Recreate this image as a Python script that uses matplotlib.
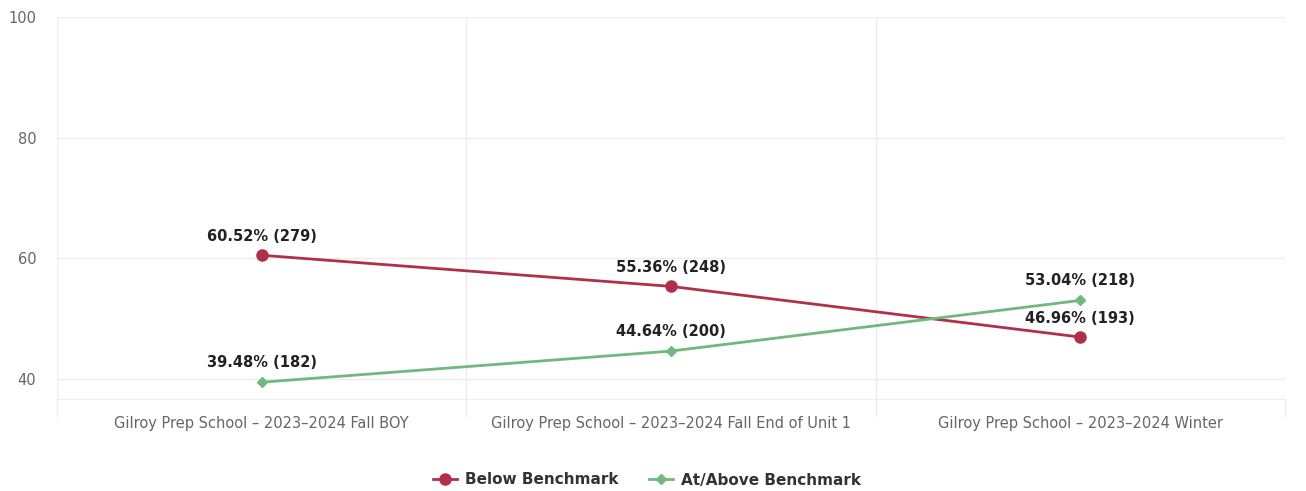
import matplotlib
matplotlib.use("Agg")
import matplotlib.pyplot as plt
from matplotlib.lines import Line2D

categories = [
    "Gilroy Prep School \u2013 2023\u20132024 Fall BOY",
    "Gilroy Prep School \u2013 2023\u20132024 Fall End of Unit 1",
    "Gilroy Prep School \u2013 2023\u20132024 Winter",
]
below_pct = [60.52, 55.36, 46.96]
below_cnt = [279, 248, 193]
above_pct = [39.48, 44.64, 53.04]
above_cnt = [182, 200, 218]
y_ticks = [40, 60, 80, 100]

red = "#B0304A"
green = "#6FB87E"
grid = "#EDEDED"

plt.rcParams["font.family"] = ["DejaVu Sans"]

fig = plt.figure(figsize=(13.06, 4.91), dpi=100)
ax = fig.add_axes([57 / 1306, 1 - 399 / 491, (1285 - 57) / 1306, (399 - 17) / 491])

x = list(range(len(categories)))

# ---------- grid ----------
for t in y_ticks:
    ax.axhline(t, color=grid, lw=1, zorder=0)
for b in [-0.5, 0.5, 1.5, 2.5]:
    ax.axvline(b, color=grid, lw=1, zorder=0)
    ax.plot([b, b], [0, -0.045], transform=ax.get_xaxis_transform(),
            color=grid, lw=1, clip_on=False)

# ---------- lines ----------
ax.plot(x, below_pct, color=red, lw=2, marker="o", ms=8, zorder=3)
ax.plot(x, above_pct, color=green, lw=2, marker="D", ms=5.5, zorder=3)

for xi, p, c in zip(x, below_pct, below_cnt):
    ax.annotate(f"{p:.2f}% ({c})", (xi, p), xytext=(0, 8), textcoords="offset points",
                ha="center", va="bottom", fontsize=10.5, weight="bold", color="#222222")
for xi, p, c in zip(x, above_pct, above_cnt):
    ax.annotate(f"{p:.2f}% ({c})", (xi, p), xytext=(0, 9), textcoords="offset points",
                ha="center", va="bottom", fontsize=10.5, weight="bold", color="#222222")

# ---------- axes ----------
ax.set_xlim(-0.5, 2.5)
ax.set_ylim(36.7, 100)
ax.set_yticks(y_ticks)
ax.set_xticks(x)
ax.set_xticklabels(categories)
ax.tick_params(axis="both", length=0, colors="#666666", labelsize=10.5)
ax.tick_params(axis="x", pad=12)
ax.tick_params(axis="y", pad=15)
for s in ["top", "right", "left"]:
    ax.spines[s].set_visible(False)
ax.spines["bottom"].set_color(grid)

# ---------- legend ----------
handles = [
    Line2D([0], [0], color=red, lw=2, marker="o", ms=8),
    Line2D([0], [0], color=green, lw=2, marker="D", ms=5.5),
]
leg = fig.legend(handles, ["Below Benchmark", "At/Above Benchmark"], loc="center",
                 bbox_to_anchor=(647 / 1306, 1 - 480 / 491), ncol=2, frameon=False,
                 handlelength=1.6, columnspacing=2.0, handletextpad=0.5,
                 prop={"weight": "bold", "size": 11})
for t in leg.get_texts():
    t.set_color("#333333")

fig.savefig("out.png", dpi=100)
plt.close()
